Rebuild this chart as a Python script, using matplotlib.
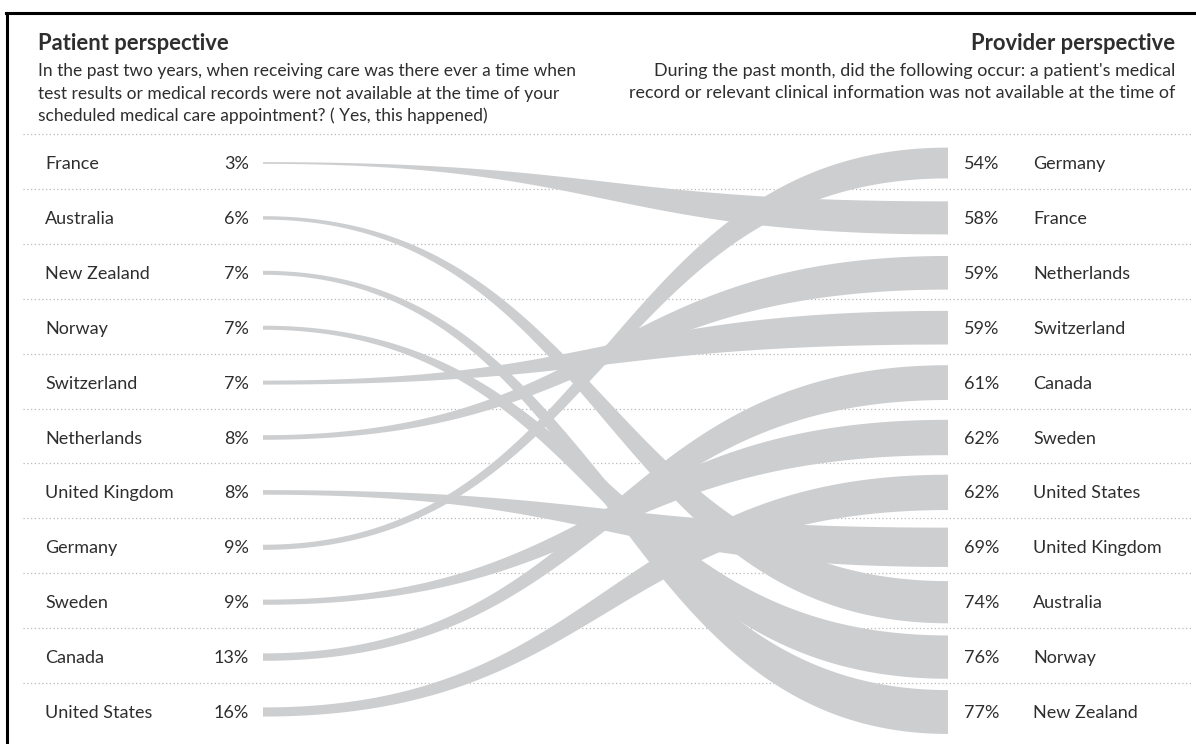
import numpy as np
import matplotlib
matplotlib.use("Agg")
import matplotlib.pyplot as plt
from matplotlib.lines import Line2D

# ---------------- data ----------------
patient_countries = ["France", "Australia", "New Zealand", "Norway", "Switzerland",
                     "Netherlands", "United Kingdom", "Germany", "Sweden", "Canada",
                     "United States"]
patient_values = [3, 6, 7, 7, 7, 8, 8, 9, 9, 13, 16]

provider_countries = ["Germany", "France", "Netherlands", "Switzerland", "Canada",
                      "Sweden", "United States", "United Kingdom", "Australia",
                      "Norway", "New Zealand"]
provider_values = [54, 58, 59, 59, 61, 62, 62, 69, 74, 76, 77]

left_title = "Patient perspective"
left_sub = ["In the past two years, when receiving care was there ever a time when",
            "test results or medical records were not available at the time of your",
            "scheduled medical care appointment? ( Yes, this happened)"]
right_title = "Provider perspective"
right_sub = ["During the past month, did the following occur: a patient's medical",
             "record or relevant clinical information was not available at the time of"]

# ---------------- style / layout ----------------
W, H = 1196, 744
BAND = "#cdced0"
TXT = "#2e2e2e"
FONT = ["Lato", "DejaVu Sans"]
plt.rcParams["font.family"] = FONT

row0, rowstep = 163.0, 54.9
x_left, x_right = 263.0, 948.0
px_per_pct = 0.57

fig = plt.figure(figsize=(W / 100, H / 100), dpi=100)
ax = fig.add_axes([0, 0, 1, 1])
ax.set_xlim(0, W)
ax.set_ylim(H, 0)
ax.axis("off")

def row_y(i):
    return row0 + rowstep * i

# dotted separators
for k in range(len(patient_countries)):
    y = row_y(k) - 29
    ax.plot([23, 1191], [y, y], color="#b8b8b8", lw=0.9,
            linestyle=(0, (1, 2)), zorder=1)

# bands
def bezier(xa, ya, xb, yb, n=200):
    t = np.linspace(0, 1, n)
    xm = (xa + xb) / 2
    bx = (1 - t) ** 3 * xa + 3 * t * (1 - t) ** 2 * xm + 3 * t ** 2 * (1 - t) * xm + t ** 3 * xb
    by = (1 - t) ** 3 * ya + 3 * t * (1 - t) ** 2 * ya + 3 * t ** 2 * (1 - t) * yb + t ** 3 * yb
    return bx, by

for i, c in enumerate(patient_countries):
    j = provider_countries.index(c)
    y0, y1 = row_y(i), row_y(j)
    h0 = px_per_pct * patient_values[i] / 2
    h1 = px_per_pct * provider_values[j] / 2
    tx, ty = bezier(x_left, y0 - h0, x_right, y1 - h1)
    bx, by = bezier(x_left, y0 + h0, x_right, y1 + h1)
    xs = np.concatenate([tx, bx[::-1]])
    ys = np.concatenate([ty, by[::-1]])
    ax.fill(xs, ys, color=BAND, lw=0, zorder=2)

# labels
fs = 13.0
for i, (c, v) in enumerate(zip(patient_countries, patient_values)):
    y = row_y(i) + 1
    ax.text(45, y, c, fontsize=fs, color=TXT, va="center", ha="left")
    ax.text(249, y, f"{v}%", fontsize=fs, color=TXT, va="center", ha="right")
for j, (c, v) in enumerate(zip(provider_countries, provider_values)):
    y = row_y(j) + 1
    ax.text(964, y, f"{v}%", fontsize=fs, color=TXT, va="center", ha="left")
    ax.text(1033, y, c, fontsize=fs, color=TXT, va="center", ha="left")

# headers
ax.text(38, 43, left_title, fontsize=15.8, fontweight="bold", color=TXT,
        va="center", ha="left")
for k, s in enumerate(left_sub):
    ax.text(38, 71 + 22.5 * k, s, fontsize=12.5, color=TXT, va="center", ha="left")
ax.text(1175, 43, right_title, fontsize=15.8, fontweight="bold", color=TXT,
        va="center", ha="right")
for k, s in enumerate(right_sub):
    ax.text(1175, 71 + 22.5 * k, s, fontsize=12.9, color=TXT, va="center", ha="right")

# frame (only left and top edges visible)
ax.add_line(Line2D([7, 7], [12.5, H + 5], color="black", lw=2.2, zorder=5))
ax.add_line(Line2D([6, W + 5], [12.5, 12.5], color="black", lw=2.2, zorder=5))

fig.savefig("out.png", dpi=100)
